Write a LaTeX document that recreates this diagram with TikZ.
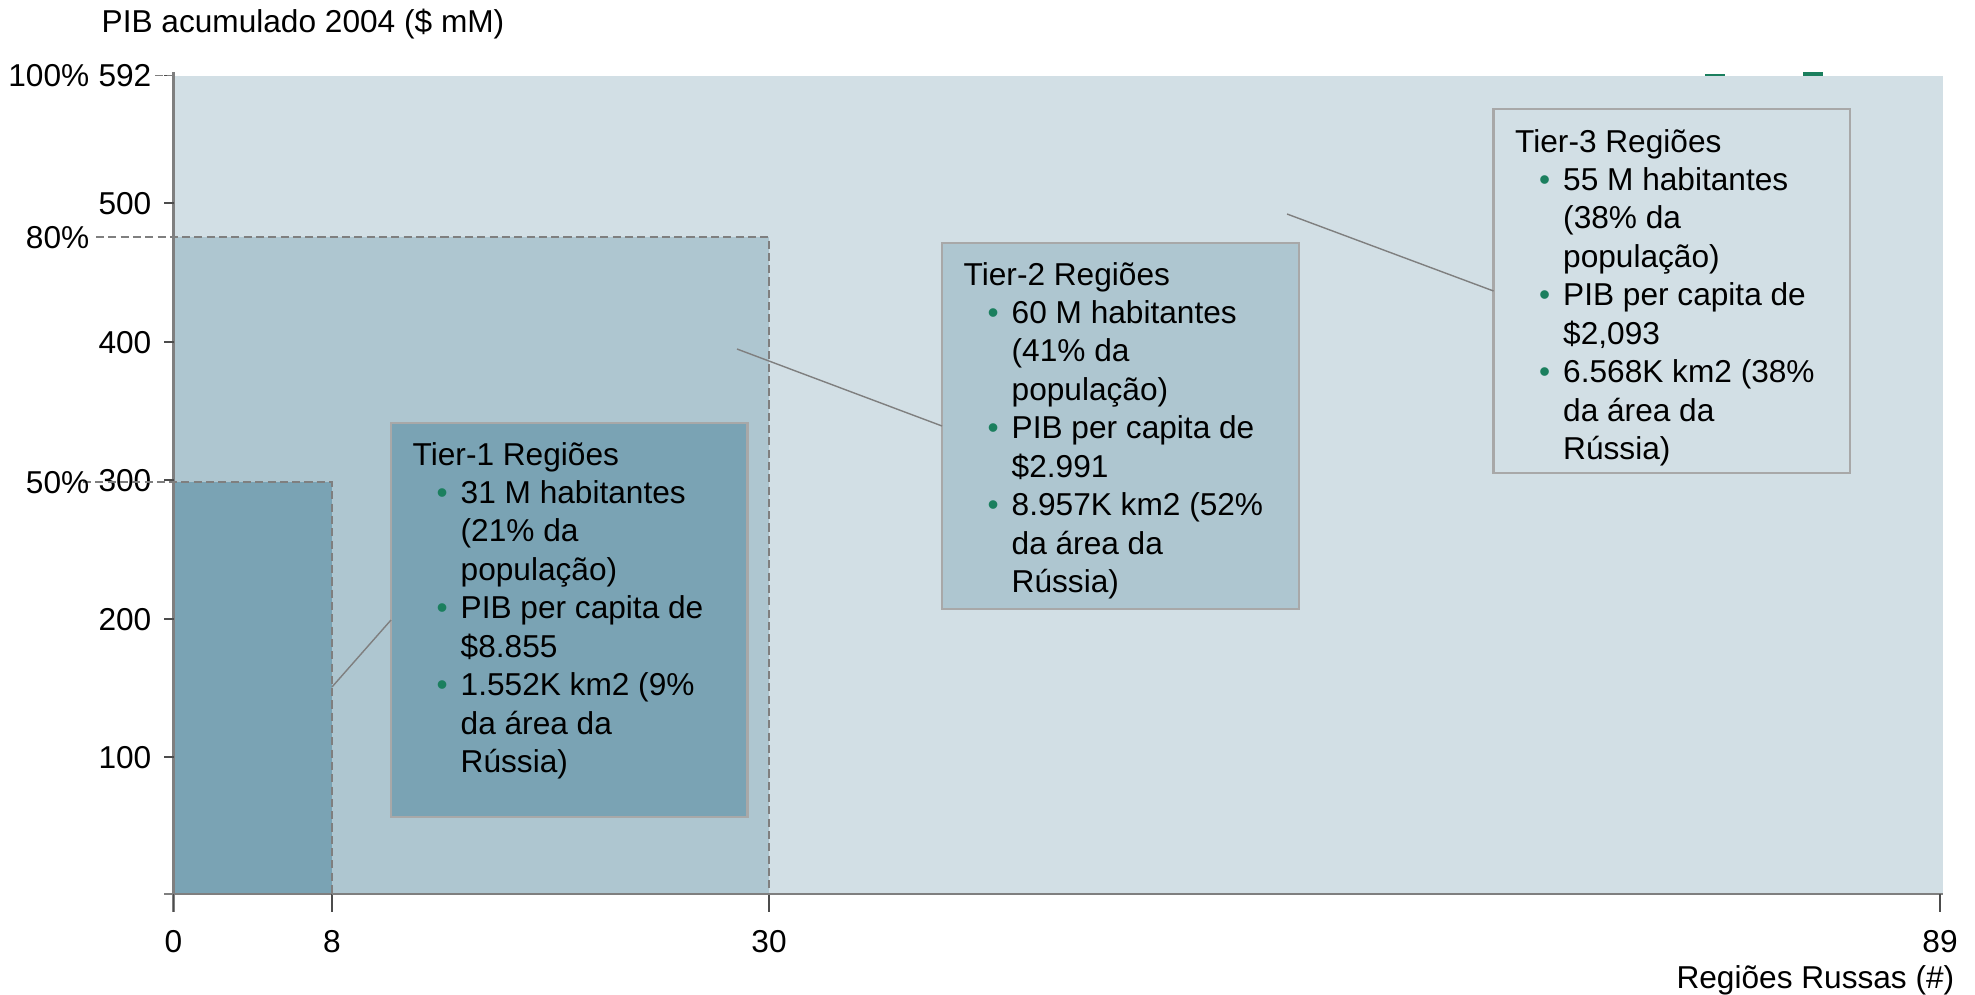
\documentclass[tikz,border=0pt]{standalone}
\usepackage{fontspec}
\setmainfont{Liberation Sans}
\usepackage{tikz}

\definecolor{tierone}{HTML}{7AA3B4}
\definecolor{tiertwo}{HTML}{AEC6D0}
\definecolor{tierthree}{HTML}{D2DFE5}
\definecolor{boxline}{HTML}{A8A8A8}
\definecolor{dotgreen}{HTML}{1B7F5E}
\definecolor{refline}{HTML}{7F7F7F}

\newcommand{\tbul}{\hspace*{2.4mm}\makebox[2.4mm][l]{\textcolor{dotgreen}{•}}}
\newcommand{\tind}{\hspace*{4.8mm}}
\newcommand{\tiertext}[1]{\parbox[t]{33mm}{\raggedright\fontsize{9}{10.95}\selectfont #1}}

\begin{document}
\begin{tikzpicture}[x=0.1mm, y=-0.1mm,
    lbl/.style={inner sep=0, font=\fontsize{9}{10.95}\selectfont},
    tierbox/.style={draw=boxline, line width=0.8pt, anchor=north west, inner sep=0, outer sep=0},
    refdash/.style={draw=refline, line width=0.55pt, dash pattern=on 2.3pt off 1.2pt},
    conn/.style={draw=refline, line width=0.4pt},
    axisline/.style={draw=refline, line width=0.6pt},
    axtick/.style={draw=black!70, line width=0.55pt}]

      \useasboundingbox (0,0) rectangle (1975,995);

      % tiers
      \fill[tierthree] (173.5,75.5) rectangle (1943,894);
      \fill[tiertwo] (173.5,237) rectangle (769,894);
      \fill[tierone] (173.5,482) rectangle (332,894);
      \fill[dotgreen] (1705,73.5) rectangle (1725,75.5);
      \fill[dotgreen] (1803,72) rectangle (1823,75.5);

      % axes
      \draw[axisline] (164,894) -- (1943,894);
      \draw[axisline] (173.5,72) -- (173.5,912);
      \foreach \v/\y in {592/75.5, 500/203, 400/342, 300/480, 200/619, 100/757} {
        \draw[axtick] (164,\y) -- (173.5,\y);
        \node[lbl, anchor=base east] (y\v) at (152,{\y+11}) {\v};
      }
      \foreach \v/\x in {0/173.5, 8/332, 30/769, 89/1940} {
        \draw[axtick] (\x,894) -- (\x,912);
        \node[lbl, anchor=base] (x\v) at (\x,952) {\v};
      }

      \draw[refdash] (155,75.5) -- (173.5,75.5);
      \draw[refdash] (96,237) -| (769,894) -- (173.5,894);
      \draw[refdash] (83,482) -| (332,894) -- (173.5,894);

      \node[lbl, anchor=base east] (p100) at (90,86.5) {100\%};
      \node[lbl, anchor=base east] (p80) at (90,248) {80\%};
      \node[lbl, anchor=base east] (p50) at (90,493) {50\%};

      \node[lbl, anchor=base west] (ytitle) at (101,32.5) {PIB acumulado 2004 (\$ mM)};
      \node[lbl, anchor=base east] (xtitle) at (1955,988) {Regiões Russas (\#)};

      % boxes
      \coordinate (t1pt) at (332,687);
      \coordinate (t2pt) at (737,349);
      \coordinate (t3pt) at (1287,214);

      \node[tierbox, fill=tierone, minimum width=35.65mm, minimum height=39.4mm] (t1) at (391,423) {};
      \node[tierbox, fill=tiertwo, minimum width=35.7mm, minimum height=36.6mm] (t2) at (942,243) {};
      \node[tierbox, fill=tierthree, minimum width=35.65mm, minimum height=36.4mm] (t3) at (1493.5,109) {};

      \draw[conn] (t1pt) -- (t1.west);
      \draw[conn] (t2pt) -- (t2.west);
      \draw[conn] (t3pt) -- (t3.west);

      \node[lbl, anchor=base west] (t1txt) at (412,465) {\tiertext{Tier-1 Regiões\\
        \tbul 31 M habitantes\\ \tind (21\% da\\ \tind população)\\
        \tbul PIB per capita de\\ \tind \$8.855\\
        \tbul 1.552K km2 (9\%\\ \tind da área da\\ \tind Rússia)}};
      \node[lbl, anchor=base west] (t2txt) at (963,285) {\tiertext{Tier-2 Regiões\\
        \tbul 60 M habitantes\\ \tind (41\% da\\ \tind população)\\
        \tbul PIB per capita de\\ \tind \$2.991\\
        \tbul 8.957K km2 (52\%\\ \tind da área da\\ \tind Rússia)}};
      \node[lbl, anchor=base west] (t3txt) at (1514.5,152) {\tiertext{Tier-3 Regiões\\
        \tbul 55 M habitantes\\ \tind (38\% da\\ \tind população)\\
        \tbul PIB per capita de\\ \tind \$2,093\\
        \tbul 6.568K km2 (38\%\\ \tind da área da\\ \tind Rússia)}};

    \end{tikzpicture}
\end{document}
